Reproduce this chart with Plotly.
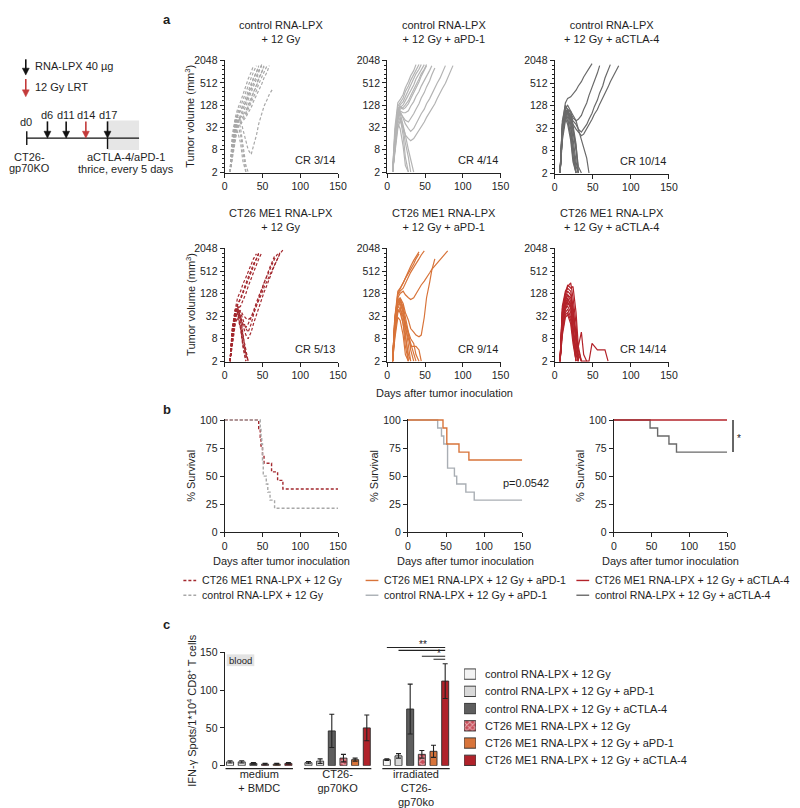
import plotly.graph_objects as go
import math

W, H = 800, 808
FONT = "Liberation Sans, Arial, sans-serif"
TXT = "#1e1e1e"

# ---------------- data: panel a (tumor volumes, mm3) ----------------
DAYS = [7, 10, 14, 17, 21, 24, 28, 31, 35, 38, 42, 45, 49, 52, 56, 59, 63, 66, 70, 73, 77, 80, 84, 87]

ctrl_12gy = [
    [2, 20, 60, 100, 160, 250, 400, 650, 1000, 1500],
    [2, 15, 45, 80, 120, 180, 300, 450, 700, 1000, 1500],
    [2, 10, 35, 64, 90, 130, 200, 300, 450, 700, 1000, 1500],
    [2, 12, 40, 70, 100, 110, 160, 250, 400, 650, 1000, 1400],
    [2, 8, 30, 50, 60, 80, 120, 180, 280, 420, 650, 1000, 1500],
    [2, 10, 25, 45, 70, 100, 150, 220, 330, 500, 800, 1100, 1600],
    [2, 6, 20, 40, 60, 70, 90, 130, 200, 300, 450, 700, 1000, 1500],
    [2, 8, 28, 55, 50, 60, 80, 120, 180, 280, 420, 650, 1000, 1400],
    [2, 5, 16, 32, 45, 55, 70, 100, 150, 220, 320, 480, 700, 1000, 1500],
    [2, 6, 20, 35, 40, 48, 60, 80, 110, 160, 230, 330, 480, 700, 1000, 1500],
    [2, 10, 40, 70, 50, 30, 15, 8, 6, 10, 20, 40, 70, 120, 180, 250, 340],
    [2, 12, 50, 64, 30, 10, 3, 2],
    [2, 8, 30, 40, 20, 8, 2],
    [2, 5, 20, 25, 12, 4, 2],
]
ctrl_pd1 = [
    [2, 30, 150, 180, 250, 380, 560, 800, 1100, 1600],
    [2, 20, 120, 150, 200, 300, 420, 600, 850, 1200, 1600],
    [2, 15, 100, 130, 160, 220, 320, 450, 650, 900, 1200, 1600],
    [2, 12, 80, 110, 130, 170, 240, 330, 450, 650, 900, 1200, 1600],
    [2, 10, 70, 100, 110, 130, 170, 230, 320, 450, 650, 900, 1200, 1600],
    [2, 12, 90, 120, 100, 110, 140, 190, 270, 380, 540, 780, 1100, 1500],
    [2, 10, 60, 90, 80, 80, 90, 120, 160, 220, 300, 420, 580, 800, 1100, 1500],
    [2, 8, 50, 80, 60, 50, 45, 55, 75, 100, 140, 200, 280, 400, 580, 850, 1300],
    [2, 10, 60, 90, 60, 40, 30, 25, 30, 40, 55, 75, 100, 140, 190, 260, 360, 500, 700, 1000, 1500],
    [2, 8, 40, 60, 30, 20, 16, 14, 16, 20, 26, 34, 45, 60, 80, 105, 140, 190, 260, 360, 500, 700, 1000, 1500],
    [2, 20, 100, 60, 20, 5, 2],
    [2, 10, 40, 30, 10, 3, 2],
    [2, 6, 30, 50, 30, 12, 5, 2],
    [2, 10, 60, 80, 40, 20, 8, 4, 2],
]
ctrl_ctla4 = [
    [2, 40, 150, 200, 220, 260, 330, 430, 560, 750, 1000, 1300, 1700],
    [2, 30, 120, 100, 80, 60, 50, 55, 70, 100, 150, 240, 380, 600, 950, 1500],
    [2, 20, 100, 90, 70, 50, 40, 30, 25, 30, 40, 55, 80, 120, 180, 280, 430, 700, 1100, 1600],
    [2, 25, 90, 80, 60, 40, 30, 25, 20, 22, 30, 40, 55, 75, 100, 140, 200, 280, 400, 560, 800, 1100, 1500],
    [2, 50, 130, 100, 40, 10, 2],
    [2, 40, 100, 80, 30, 6, 2],
    [2, 30, 80, 100, 50, 15, 4, 2],
    [2, 20, 64, 90, 60, 25, 8, 2],
    [2, 35, 90, 60, 20, 5, 2],
    [2, 25, 70, 50, 20, 8, 3, 2],
    [2, 15, 50, 80, 70, 30, 10, 3, 2],
    [2, 20, 60, 40, 15, 4, 2],
    [2, 30, 110, 130, 90, 40, 12, 2],
    [2, 20, 80, 100, 90, 70, 50, 30, 15, 10, 5, 2],
]
me1_12gy = [
    [2, 15, 50, 100, 150, 230, 350, 500, 750, 1100, 1500],
    [2, 10, 40, 64, 100, 150, 230, 350, 550, 800, 1100, 1500],
    [2, 12, 45, 70, 90, 130, 200, 320, 500, 750, 1100, 1600],
    [2, 8, 30, 50, 60, 80, 130, 200, 320, 500, 750, 1100, 1600],
    [2, 10, 35, 60, 40, 25, 15, 12, 20, 35, 60, 100, 160, 250, 380, 550, 800, 1100, 1500],
    [2, 8, 30, 45, 30, 18, 10, 8, 12, 20, 35, 55, 90, 140, 220, 330, 500, 750, 1100, 1600],
    [2, 12, 40, 55, 30, 20, 16, 20, 30, 45, 70, 110, 170, 260, 400, 600, 900, 1300],
    [2, 6, 25, 40, 45, 35, 28, 26, 30, 40, 60, 90, 130, 190, 280, 400, 580, 820, 1100, 1500, 1900],
    [2, 15, 50, 40, 15, 5, 2],
    [2, 10, 40, 60, 30, 10, 3, 2],
    [2, 8, 30, 40, 25, 10, 4, 2],
    [2, 12, 45, 50, 20, 6, 2],
    [2, 6, 20, 30, 15, 6, 3, 2],
]
me1_pd1 = [
    [2, 30, 150, 180, 250, 350, 500, 700, 1000, 1300, 1700],
    [2, 20, 120, 150, 180, 250, 350, 480, 650, 850, 1100, 1400, 1800],
    [2, 15, 80, 100, 70, 40, 25, 15, 12, 10, 9, 10, 30, 100, 250, 550, 1100],
    [2, 20, 100, 130, 150, 120, 100, 90, 100, 130, 170, 220, 280, 360, 460, 580, 720, 880, 1050, 1250, 1500, 1800],
    [2, 25, 130, 180, 250, 330, 450, 600, 800, 1100, 1500],
    [2, 30, 100, 60, 20, 5, 2],
    [2, 20, 80, 100, 50, 20, 6, 2],
    [2, 15, 60, 80, 60, 30, 12, 4, 2],
    [2, 10, 40, 50, 30, 15, 8, 5, 5, 5, 4, 2],
    [2, 25, 90, 70, 40, 20, 10, 6, 3, 2],
    [2, 12, 50, 40, 20, 8, 3, 2],
    [2, 18, 70, 90, 40, 12, 2],
    [2, 8, 30, 25, 10, 3, 2],
    [2, 20, 60, 50, 35, 20, 12, 8, 6, 3, 2],
]
me1_ctla4 = [
    [2, 60, 150, 200, 250, 100, 20, 2],
    [2, 50, 130, 180, 150, 60, 10, 2],
    [2, 40, 100, 150, 120, 50, 8, 2],
    [2, 30, 80, 120, 100, 40, 6, 2],
    [2, 30, 70, 100, 60, 20, 4, 2],
    [2, 25, 60, 80, 50, 15, 3, 2],
    [2, 20, 50, 60, 40, 12, 3, 2],
    [2, 15, 40, 50, 30, 10, 2],
    [2, 12, 35, 40, 25, 8, 2],
    [2, 10, 30, 35, 20, 6, 2],
    [2, 20, 60, 90, 70, 30, 10, 4, 2],
    [2, 15, 50, 70, 60, 30, 12, 5, 12, 3, 2],
    [2, 40, 120, 220, 180, 200, 40, 5, 2],
    [2, 30, 90, 120, 80, 30, 8, 3, 2, 2, 2, 2, 6, 5, 4, 4, 4, 4, 2],
]

a_titles = ["control RNA-LPX<br>+ 12 Gy", "control RNA-LPX<br>+ 12 Gy + aPD-1",
            "control RNA-LPX<br>+ 12 Gy + aCTLA-4", "CT26 ME1 RNA-LPX<br>+ 12 Gy",
            "CT26 ME1 RNA-LPX<br>+ 12 Gy + aPD-1", "CT26 ME1 RNA-LPX<br>+ 12 Gy + aCTLA-4"]
a_cr = ["CR 3/14", "CR 4/14", "CR 10/14", "CR 5/13", "CR 9/14", "CR 14/14"]
vol_ticks = [2, 8, 32, 128, 512, 2048]
vol_ticktext = ["2", "8", "32", "128", "512", "2048"]
day_ticks = [0, 50, 100, 150]

# ---------------- data: panel b (survival, %) ----------------
s_me1_12_t = [0, 45, 47, 48, 50, 52, 62, 70, 77, 150]
s_me1_12_v = [100, 92.3, 84.6, 76.9, 69.2, 61.5, 53.8, 46.2, 38.5, 38.5]
s_ctl_12_t = [0, 47, 48, 49, 50, 51, 55, 57, 60, 66, 150]
s_ctl_12_v = [100, 92.9, 85.7, 78.6, 64.3, 50, 42.9, 35.7, 28.6, 21.4, 21.4]
s_me1_pd1_t = [0, 46, 51, 67, 80, 150]
s_me1_pd1_v = [100, 92.9, 78.6, 71.4, 64.3, 64.3]
s_ctl_pd1_t = [0, 39, 44, 47, 52, 61, 64, 76, 87, 150]
s_ctl_pd1_v = [100, 92.9, 85.7, 78.6, 57.1, 50, 42.9, 35.7, 28.6, 28.6]
s_me1_ctla_t = [0, 150]
s_me1_ctla_v = [100, 100]
s_ctl_ctla_t = [0, 48, 58, 73, 83, 150]
s_ctl_ctla_v = [100, 92.9, 85.7, 78.6, 71.4, 71.4]
surv_ticks = [0, 25, 50, 75, 100]

# ---------------- data: panel c (IFN-g spots) ----------------
c_groups = ["medium<br>+ BMDC", "CT26-<br>gp70KO", "irradiated<br>CT26-<br>gp70ko"]
c_names = ["control RNA-LPX + 12 Gy", "control RNA-LPX + 12 Gy + aPD-1",
           "control RNA-LPX + 12 Gy + aCTLA-4", "CT26 ME1 RNA-LPX + 12 Gy",
           "CT26 ME1 RNA-LPX + 12 Gy + aPD-1", "CT26 ME1 RNA-LPX + 12 Gy + aCTLA-4"]
c_ctl_12 = [5, 4, 8]
c_ctl_12_err = [1.5, 1.5, 1]
c_ctl_pd1 = [5, 6, 13]
c_ctl_pd1_err = [1.5, 3, 3]
c_ctl_ctla = [3, 46, 75]
c_ctl_ctla_err = [1, 22, 33]
c_me1_12 = [2, 10, 15]
c_me1_12_err = [1, 5, 5]
c_me1_pd1 = [2, 8, 19]
c_me1_pd1_err = [1, 2, 8]
c_me1_ctla = [3, 50, 112]
c_me1_ctla_err = [1, 17, 23]
c_ticks = [0, 50, 100, 150]

# ---------------- helpers ----------------
def xd(x0, x1):
    return [x0 / W, x1 / W]

def yd(top, bot):
    return [1 - bot / H, 1 - top / H]

def px(x):
    return x / W

def py(y):
    return 1 - y / H

def xid(n):
    return "x" if n == 1 else "x%d" % n

def yid(n):
    return "y" if n == 1 else "y%d" % n

def xkey(n):
    return "xaxis" if n == 1 else "xaxis%d" % n

def ykey(n):
    return "yaxis" if n == 1 else "yaxis%d" % n

fig = go.Figure()
ann = []
shapes = []

def text(x, y, s, size=11, xanchor="center", yanchor="middle", angle=0, bold=False, color=TXT):
    ann.append(dict(x=px(x), y=py(y), xref="paper", yref="paper",
                    text=("<b>%s</b>" % s) if bold else s,
                    showarrow=False, xanchor=xanchor, yanchor=yanchor, textangle=angle,
                    font=dict(size=size, color=color, family=FONT)))

def pline(x0, y0, x1, y1, col="#111", w=1.4, dash="solid"):
    shapes.append(dict(type="line", xref="paper", yref="paper", x0=px(x0), x1=px(x1),
                       y0=py(y0), y1=py(y1), line=dict(color=col, width=w, dash=dash)))

def arrow(x, yhead, ytail, col):
    pline(x, ytail, x, yhead - 5, col, 1.6)
    shapes.append(dict(type="path", xref="paper", yref="paper",
                       path="M %f %f L %f %f L %f %f Z" % (px(x - 3.5), py(yhead - 7), px(x + 3.5), py(yhead - 7), px(x), py(yhead)),
                       fillcolor=col, line=dict(color=col, width=0.5)))

AX = dict(showline=True, linecolor="#222", linewidth=1.2, ticks="outside", ticklen=4,
          tickwidth=1.1, tickcolor="#222", showgrid=False, zeroline=False,
          tickfont=dict(size=10.5, color=TXT, family=FONT))

# minor tick marks on the log2 axis (styling only)
vol_minor = [2 ** (1 + 0.4 * j) for j in range(1, 25) if j % 5 != 0]

layout = {}

# ---------------- panel a ----------------
a_data = [ctrl_12gy, ctrl_pd1, ctrl_ctla4, me1_12gy, me1_pd1, me1_ctla4]
a_colors = ["#a8a8a8", "#b4b4b4", "#6a6a6a", "#a3282e", "#d8743a", "#b3232a"]
a_dash = ["3px,2px", "solid", "solid", "3px,2px", "solid", "solid"]
a_dom = [(217, 332, 47, 161), (382, 497, 47, 161), (552, 668, 47, 162),
         (217, 332, 238, 353), (382, 497, 238, 353), (552, 668, 238, 353)]

for i in range(6):
    n = i + 1
    x0, x1, t, b = a_dom[i]
    for mouse in a_data[i]:
        fig.add_trace(go.Scatter(x=DAYS[:len(mouse)], y=mouse, mode="lines",
                                 line=dict(color=a_colors[i], width=1.2, dash=a_dash[i]),
                                 xaxis=xid(n), yaxis=yid(n), showlegend=False, hoverinfo="skip"))
    layout[xkey(n)] = dict(AX, domain=xd(x0, x1), anchor=yid(n), range=[0, 150],
                           tickmode="array", tickvals=day_ticks)
    layout[ykey(n)] = dict(AX, domain=yd(t, b), anchor=xid(n), type="log",
                           range=[math.log10(1.93), math.log10(2090)],
                           tickmode="array", tickvals=vol_ticks, ticktext=vol_ticktext,
                           minor=dict(tickmode="array", tickvals=vol_minor, ticklen=2,
                                      tickcolor="#222", ticks="outside", tickwidth=0.8))
    text((x0 + x1) / 2, t - 29, a_titles[i], size=11)
    ann.append(dict(x=0.995, y=0.04, xref=xid(n) + " domain", yref=yid(n) + " domain",
                    text=a_cr[i], showarrow=False, xanchor="right", yanchor="bottom",
                    font=dict(size=11, color=TXT, family=FONT)))

text(182, 104, "Tumor volume (mm<sup>3</sup>)", angle=-90)
text(182, 295, "Tumor volume (mm<sup>3</sup>)", angle=-90)
text(440, 385, "Days after tumor inoculation")

# ---------------- panel b ----------------
b_dom = [(217, 332, 411, 526), (403, 519, 411, 526), (612, 727, 411, 526)]
b_series = [
    [(s_me1_12_t, s_me1_12_v, "#a3282e", "3px,2px", "CT26 ME1 RNA-LPX + 12 Gy"),
     (s_ctl_12_t, s_ctl_12_v, "#a8a8a8", "3px,2px", "control RNA-LPX + 12 Gy")],
    [(s_ctl_pd1_t, s_ctl_pd1_v, "#a9aeb4", "solid", "control RNA-LPX + 12 Gy + aPD-1"),
     (s_me1_pd1_t, s_me1_pd1_v, "#d8743a", "solid", "CT26 ME1 RNA-LPX + 12 Gy + aPD-1")],
    [(s_ctl_ctla_t, s_ctl_ctla_v, "#6a6a6a", "solid", "control RNA-LPX + 12 Gy + aCTLA-4"),
     (s_me1_ctla_t, s_me1_ctla_v, "#b3232a", "solid", "CT26 ME1 RNA-LPX + 12 Gy + aCTLA-4")],
]
b_leg = [
    [("#a3282e", "3px,2px", "CT26 ME1 RNA-LPX + 12 Gy"), ("#a8a8a8", "3px,2px", "control RNA-LPX + 12 Gy")],
    [("#d8743a", "solid", "CT26 ME1 RNA-LPX + 12 Gy + aPD-1"), ("#a9aeb4", "solid", "control RNA-LPX + 12 Gy + aPD-1")],
    [("#b3232a", "solid", "CT26 ME1 RNA-LPX + 12 Gy + aCTLA-4"), ("#6a6a6a", "solid", "control RNA-LPX + 12 Gy + aCTLA-4")],
]
b_leg_x = [175, 360, 574]
for j in range(3):
    n = 7 + j
    x0, x1, t, b = b_dom[j]
    for (tt, vv, col, dash, name) in b_series[j]:
        fig.add_trace(go.Scatter(x=tt, y=vv, mode="lines", line=dict(color=col, width=1.4, dash=dash, shape="hv"),
                                 xaxis=xid(n), yaxis=yid(n), showlegend=False, name=name, hoverinfo="skip"))
    layout[xkey(n)] = dict(AX, domain=xd(x0, x1), anchor=yid(n), range=[0, 150],
                           tickmode="array", tickvals=day_ticks)
    layout[ykey(n)] = dict(AX, domain=yd(t, b), anchor=xid(n), range=[0, 101],
                           tickmode="array", tickvals=surv_ticks)
    text(x0 - 35, (t + b) / 2, "% Survival", angle=-90)
    text((x0 + x1) / 2, 555, "Days after tumor inoculation")
    lx = b_leg_x[j]
    for k, (col, dash, name) in enumerate(b_leg[j]):
        yy = 575 + 15 * k
        pline(lx, yy, lx + 13, yy, col, 1.4, dash)
        text(lx + 17, yy, name, xanchor="left", size=10.6)

text(523, 476, "p=0.0542")
shapes.append(dict(type="line", xref="paper", yref="y9", x0=px(733), x1=px(733), y0=71.4, y1=100,
                   line=dict(color="#333", width=1.5)))
text(739, 431, "*", size=10)

# ---------------- panel c ----------------
c_vals = [c_ctl_12, c_ctl_pd1, c_ctl_ctla, c_me1_12, c_me1_pd1, c_me1_ctla]
c_errs = [c_ctl_12_err, c_ctl_pd1_err, c_ctl_ctla_err, c_me1_12_err, c_me1_pd1_err, c_me1_ctla_err]
c_cols = ["#f3f3f3", "#d9d9d9", "#5e5e5e", "#c84e5a", "#d8743a", "#b0222a"]
c_pat = ["", "", "", "x", "", ""]
for k in range(6):
    marker = dict(color=c_cols[k], line=dict(color="#2a2a2a", width=0.9))
    if c_pat[k]:
        marker["pattern"] = dict(shape=c_pat[k], fgcolor="#ffffff", bgcolor=c_cols[k], size=5, solidity=0.45)
    fig.add_trace(go.Bar(x=c_groups, y=c_vals[k], name=c_names[k], marker=marker,
                         error_y=dict(type="data", array=c_errs[k], color="#222", thickness=1.1, width=2.5),
                         xaxis="x10", yaxis="y10", showlegend=False))
layout["xaxis10"] = dict(domain=xd(217, 447), anchor="y10", type="category", range=[-0.44, 2.45],
                         showline=False, ticks="", showgrid=False, zeroline=False, ticklabelstandoff=0,
                         tickfont=dict(size=11, color=TXT, family=FONT))
layout["yaxis10"] = dict(AX, domain=yd(648, 763), anchor="x10", range=[0, 150],
                         tickmode="array", tickvals=c_ticks)
for g in range(3):
    shapes.append(dict(type="line", xref="x10", yref="paper", x0=g - 0.43, x1=g + 0.43,
                       y0=py(766), y1=py(766), line=dict(color="#222", width=1.2)))
# significance brackets
bw = (1 - 0.107) / 6
def barx(g, k):
    return g + (k - 2.5) * bw
for (k0, yy) in [(0, 643), (1, 646), (3, 652), (4, 655)]:
    shapes.append(dict(type="line", xref="x10", yref="paper", x0=barx(2, k0), x1=barx(2, 5),
                       y0=py(yy), y1=py(yy), line=dict(color="#222", width=1.1)))
text(418, 640, "**", size=10)
text(435, 649, "*", size=10)
shapes.append(dict(type="rect", xref="paper", yref="paper", x0=px(219), x1=px(247), y0=py(662), y1=py(650),
                   fillcolor="#e3e3e3", line=dict(width=0), layer="below"))
text(233, 656, "blood", size=9.5)
text(183, 707, "IFN-γ Spots/1*10<sup>4</sup> CD8<sup>+</sup> T cells", angle=-90)

# legend for panel c: swatches drawn as a tiny bar subplot, labels as text
fig.add_trace(go.Bar(y=c_names, x=[1] * 6, orientation="h", width=0.6,
                     marker=dict(color=c_cols, line=dict(color="#2a2a2a", width=0.9),
                                 pattern=dict(shape=c_pat, fgcolor="#ffffff", bgcolor=c_cols, size=4, solidity=0.45)),
                     xaxis="x11", yaxis="y11", showlegend=False, hoverinfo="skip"))
layout["xaxis11"] = dict(domain=xd(460, 472), anchor="y11", range=[0, 1], visible=False)
layout["yaxis11"] = dict(domain=yd(661.3, 766.3), anchor="x11", type="category",
                         range=[5.5, -0.5], visible=False)
for k, name in enumerate(c_names):
    text(479, 670 + 17.5 * k, name, xanchor="left")

# ---------------- schematic ----------------
RED = "#c33a3a"
arrow(15, 62, 46, "#111")
text(22, 53, "RNA-LPX 40 µg", xanchor="left")
arrow(15, 84, 66, RED)
text(22, 74, "12 Gy LRT", xanchor="left")
shapes.append(dict(type="rect", xref="paper", yref="paper", x0=px(98), x1=px(130), y0=py(138), y1=py(108),
                   fillcolor="#e6e6e6", line=dict(width=0), layer="below"))
pline(16, 126, 130, 126)
pline(16, 119, 16, 133)
pline(98, 126, 98, 137)
for (xx, lab, col) in [(37, "d6", "#111"), (56, "d11", "#111"), (76, "d14", RED), (98, "d17", "#111")]:
    arrow(xx, 126, 109, col)
    text(xx, 103, lab)
text(15, 110, "d0")
text(19, 145, "CT26-")
text(19, 156, "gp70KO")
text(117, 145, "aCTLA-4/aPD-1")
text(117, 157, "thrice, every 5 days")

# panel letters
text(158, 6, "a", size=13, bold=True)
text(158, 401, "b", size=13, bold=True)
text(158, 620, "c", size=13, bold=True)

fig.update_layout(**layout)
fig.update_layout(
    width=W, height=H, margin=dict(l=0, r=0, t=0, b=0),
    paper_bgcolor="white", plot_bgcolor="white",
    font=dict(family=FONT, size=11, color=TXT),
    barmode="group", bargap=0.107, bargroupgap=0.4,
    showlegend=False,
    annotations=ann, shapes=shapes,
)
fig.write_html("out.html")
